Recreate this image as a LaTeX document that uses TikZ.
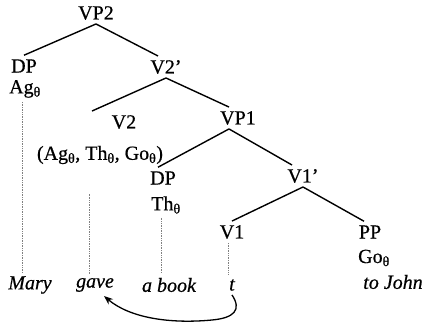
\documentclass[tikz,border=0pt]{standalone}
\usepackage{fontspec}
\setmainfont{Liberation Serif}[FakeBold=0.6]
\usetikzlibrary{arrows.meta}

\begin{document}
\begin{tikzpicture}[x=1pt,y=-1pt,
  lab/.style={inner xsep=2pt,inner ysep=4pt,font=\fontsize{20}{22}\selectfont},
  word/.style={lab,font=\fontsize{20}{22}\selectfont\itshape},
  branch/.style={line width=1.4pt},
  trace/.style={densely dotted,gray,line width=0.7pt}]

\useasboundingbox (0,0) rectangle (428,328);

% labels of the tree
\node[lab] (vp2)   at (96,13)  {VP2};
\node[lab] (dp)    at (24,66)  {DP};
\node[lab] (ag)    at (25,89)  {Ag\textsubscript{θ}};
\node[lab] (v2bar) at (166,67) {V2’};
\node[lab] (v2)    at (124,122) {V2};
\node[lab] (args)  at (100,155) {(Ag\textsubscript{θ}, Th\textsubscript{θ}, Go\textsubscript{θ})};
\node[lab] (vp1)   at (238,118) {VP1};
\node[lab] (dpth)  at (163,178) {DP};
\node[lab] (th)    at (166,205) {Th\textsubscript{θ}};
\node[lab] (v1bar) at (303,176) {V1’};
\node[lab] (v1)    at (232,232) {V1};
\node[lab] (pp)    at (370,232) {PP};
\node[lab] (go)    at (374,258) {Go\textsubscript{θ}};

% the words
\node[word] (mary)  at (30,285)  {Mary};
\node[word] (gave)  at (95,285)  {gave};
\node[word] (abook) at (169,285) {a book};
\node[word] (t)     at (232,285) {t};
\node[word] (john)  at (393,282) {to John};

\draw[branch] (vp2.south) -- (dp.north);
\draw[branch] (vp2.south) -- ([xshift=-8pt]v2bar.north);
\draw[branch] (v2bar.south) -- ([xshift=-32pt]v2.north);
\draw[branch] (v2bar.south) -- ([xshift=-9pt]vp1.north);
\draw[branch] ([xshift=-9pt]vp1.south) -- ([xshift=-5pt]dpth.north);
\draw[branch] ([xshift=-9pt]vp1.south) -- ([xshift=-11pt]v1bar.north);
\draw[branch] (v1bar.south) -- (v1.north);
\draw[branch] (v1bar.south) -- ([xshift=-6pt]pp.north);

% traces down to the words
\draw[trace] ([xshift=-3pt]ag.south) -- ([xshift=-3pt]ag.south |- mary.north);
\draw[trace] ([xshift=-6pt]gave.north) -- ++(0,-80);
\draw[trace] ([xshift=-5pt]th.south) -- ([xshift=-5pt]th.south |- abook.north);
\draw[trace] ([xshift=-4pt]v1.south) -- ([xshift=-4pt]v1.south |- t.north);

% movement of the verb
\draw[-{Stealth[length=9pt,width=7pt]},line width=1.3pt]
  (t.south) .. controls (242,310) and (234,318) .. (212,320)
  .. controls (170,324) and (130,318) .. ([xshift=9pt]gave.south);

\end{tikzpicture}
\end{document}
